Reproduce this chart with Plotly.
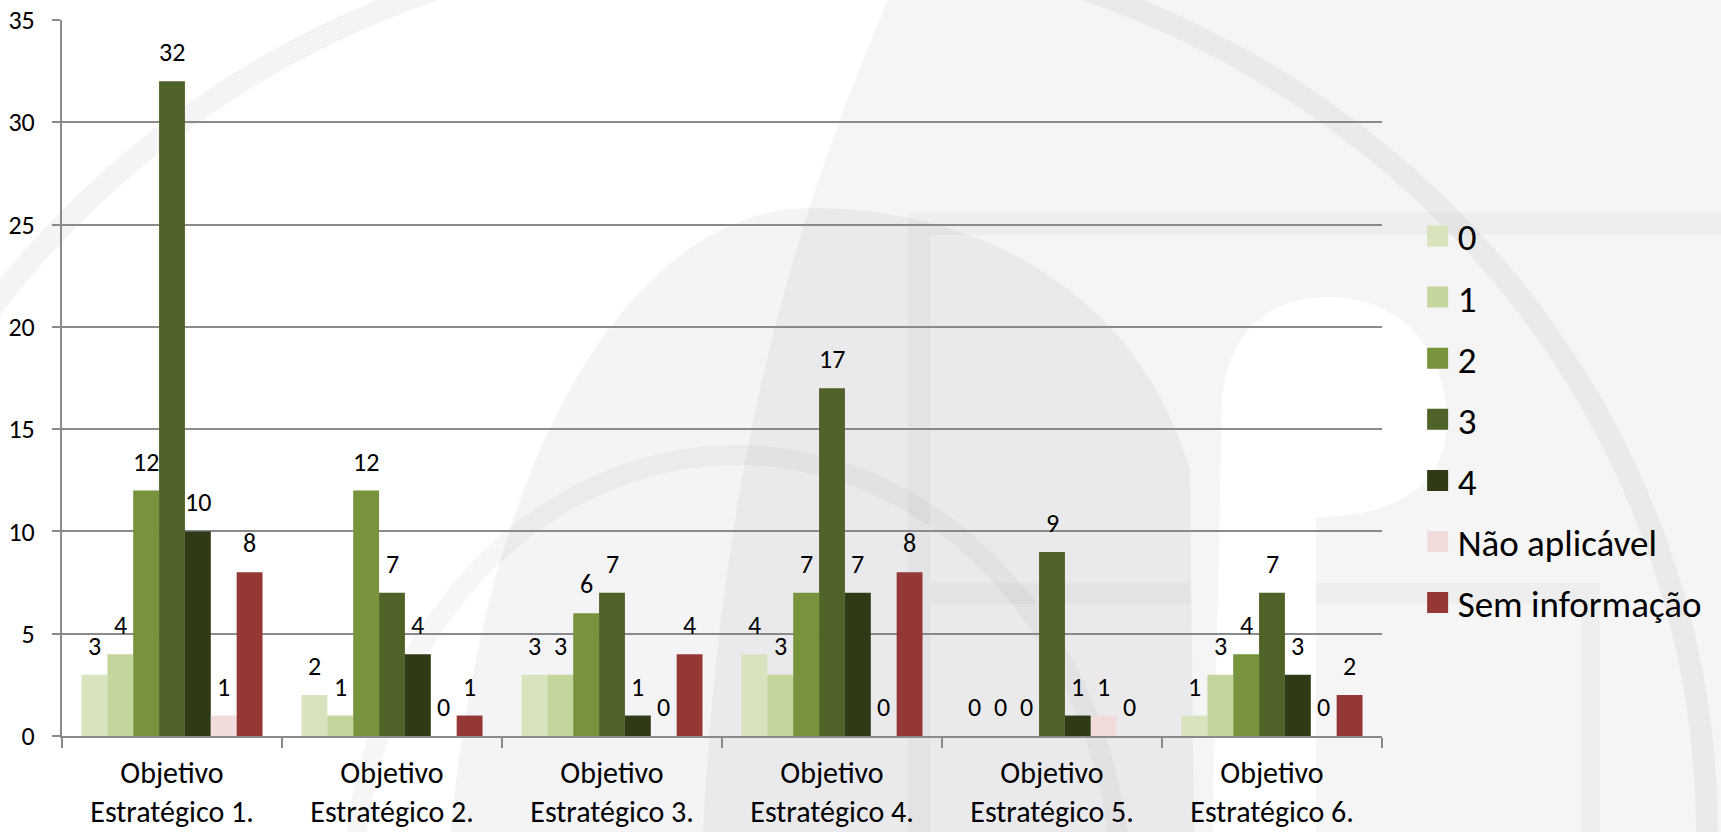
import plotly.graph_objects as go

# ---- data -------------------------------------------------------------
categories = [
    "Objetivo<br>Estratégico 1.",
    "Objetivo<br>Estratégico 2.",
    "Objetivo<br>Estratégico 3.",
    "Objetivo<br>Estratégico 4.",
    "Objetivo<br>Estratégico 5.",
    "Objetivo<br>Estratégico 6.",
]
series_names = ["0", "1", "2", "3", "4", "Não aplicável", "Sem informação"]
s0 = [3, 2, 3, 4, 0, 1]
s1 = [4, 1, 3, 3, 0, 3]
s2 = [12, 12, 6, 7, 0, 4]
s3 = [32, 7, 7, 17, 9, 7]
s4 = [10, 4, 1, 7, 1, 3]
s_na = [1, 0, 0, 0, 1, 0]
s_si = [8, 1, 4, 8, 0, 2]
series_values = [s0, s1, s2, s3, s4, s_na, s_si]
y_ticks = [0, 5, 10, 15, 20, 25, 30, 35]

colors = ["#D7E4BD", "#C3D69B", "#77933C", "#4F6228", "#2F3A17", "#F2DCDB", "#953735"]

# ---- geometry ---------------------------------------------------------
FIG_W, FIG_H = 1721, 832
M_L, M_R, M_T, M_B = 62, 339, 20, 96
PLOT_W = FIG_W - M_L - M_R
PLOT_H = FIG_H - M_T - M_B
BASE_Y = FIG_H - M_B
BARGAP = 0.177

FONT = "Calibri, Carlito, Lato, sans-serif"
GRID = "#8a8a8a"


def to_paper(x, y):
    return (x - M_L) / PLOT_W, (BASE_Y - y) / PLOT_H


def svg_path(cmds):
    out = []
    for cmd in cmds:
        op, pts = cmd[0], cmd[1:]
        coords = " ".join("%.4f,%.4f" % to_paper(*p) for p in pts)
        out.append(op + " " + coords if pts else op)
    return " ".join(out)


def region(cmds, fill):
    return dict(type="path", xref="paper", yref="paper", layer="below",
                path=svg_path(cmds), fillcolor=fill, line=dict(width=0))


def band(x0, y0, x1, y1, fill="rgba(0,0,0,0.028)"):
    a, b = to_paper(x0, y0)
    c, d = to_paper(x1, y1)
    return dict(type="rect", xref="paper", yref="paper", layer="below",
                x0=a, y0=b, x1=c, y1=d, fillcolor=fill, line=dict(width=0))


def ring(cx, cy, rx, ry, width, color):
    a, b = to_paper(cx - rx, cy - ry)
    c, d = to_paper(cx + rx, cy + ry)
    return dict(type="circle", xref="paper", yref="paper", layer="below",
                x0=a, y0=d, x1=c, y1=b, fillcolor="rgba(0,0,0,0)",
                line=dict(color=color, width=width))


# faint watermark behind the chart
shapes = [
    region([("M", (905, -40)), ("C", (800, 200), (715, 450), (700, 900)),
            ("L", (1760, 900)), ("L", (1760, -40)), ("Z",)], "rgba(0,0,0,0.04)"),
    region([("M", (1211, 900)), ("L", (1222, 400)),
            ("C", (1230, 320), (1280, 297), (1330, 297)),
            ("C", (1400, 297), (1447, 350), (1447, 420)),
            ("C", (1447, 490), (1390, 517), (1316, 517)),
            ("L", (1316, 900)), ("Z",)], "#ffffff"),
    region([("M", (445, 900)), ("C", (475, 420), (650, 208), (810, 208)),
            ("C", (990, 208), (1140, 300), (1190, 470)),
            ("L", (1195, 900)), ("Z",)], "rgba(40,40,70,0.05)"),
    band(908, 212, 1760, 235),
    band(908, 235, 930, 900),
    band(930, 583, 1190, 604),
    band(1316, 583, 1600, 604),
    band(1581, 604, 1600, 900),
    ring(760, 833, 947, 898, 22, "rgba(100,100,115,0.07)"),
    ring(737, 900, 385, 445, 20, "rgba(100,100,115,0.06)"),
]

fig = go.Figure()

for name, vals, col in zip(series_names, series_values, colors):
    fig.add_trace(go.Bar(
        x=categories, y=vals, name=name, marker=dict(color=col, line=dict(width=0)),
        showlegend=False, hoverinfo="x+y+name",
    ))

# legend entries with larger square swatches
for name, col in zip(series_names, colors):
    fig.add_trace(go.Scatter(
        x=[None], y=[None], mode="markers", name=name, legendgroup=name,
        marker=dict(symbol="square", size=16, color=col, line=dict(color=col, width=5)),
        showlegend=True, hoverinfo="skip",
    ))

# value labels above each bar
n = len(series_names)
cat_px = PLOT_W / len(categories)
bar_px = cat_px * (1 - BARGAP) / n
annotations = []
for i, vals in enumerate(series_values):
    shift = (i - (n - 1) / 2) * bar_px
    for cat, v in zip(categories, vals):
        annotations.append(dict(
            x=cat, y=v, xref="x", yref="y", text=str(v), showarrow=False,
            xanchor="center", yanchor="bottom", xshift=shift, yshift=11,
            font=dict(family=FONT, size=26, color="#000000"),
        ))

fig.update_layout(
    width=FIG_W, height=FIG_H,
    margin=dict(l=M_L, r=M_R, t=M_T, b=M_B, pad=0, autoexpand=False),
    paper_bgcolor="#ffffff", plot_bgcolor="rgba(0,0,0,0)",
    barmode="group", bargap=BARGAP, bargroupgap=0,
    font=dict(family=FONT, color="#000000"),
    shapes=shapes, annotations=annotations,
    legend=dict(
        x=1.027, y=0.741, xanchor="left", yanchor="top",
        font=dict(family=FONT, size=37, color="#000000"),
        bgcolor="rgba(0,0,0,0)", tracegroupgap=10, itemwidth=30,
    ),
    xaxis=dict(
        type="category", showline=True, linecolor=GRID, linewidth=2,
        ticks="outside", tickson="boundaries", ticklen=10, tickcolor=GRID, tickwidth=2,
        tickfont=dict(family=FONT, size=30, color="#000000"),
        ticklabelstandoff=9, automargin=False,
        showgrid=False, zeroline=False, fixedrange=True,
    ),
    yaxis=dict(
        range=[0, 35], tickvals=y_ticks, showline=True, linecolor=GRID, linewidth=2,
        ticks="outside", ticklen=8, tickcolor=GRID, tickwidth=2,
        showgrid=True, gridcolor=GRID, gridwidth=2, zeroline=False,
        tickfont=dict(family=FONT, size=26, color="#000000"),
        ticklabelstandoff=12, automargin=False, fixedrange=True,
    ),
)

fig.write_html("out.html")
